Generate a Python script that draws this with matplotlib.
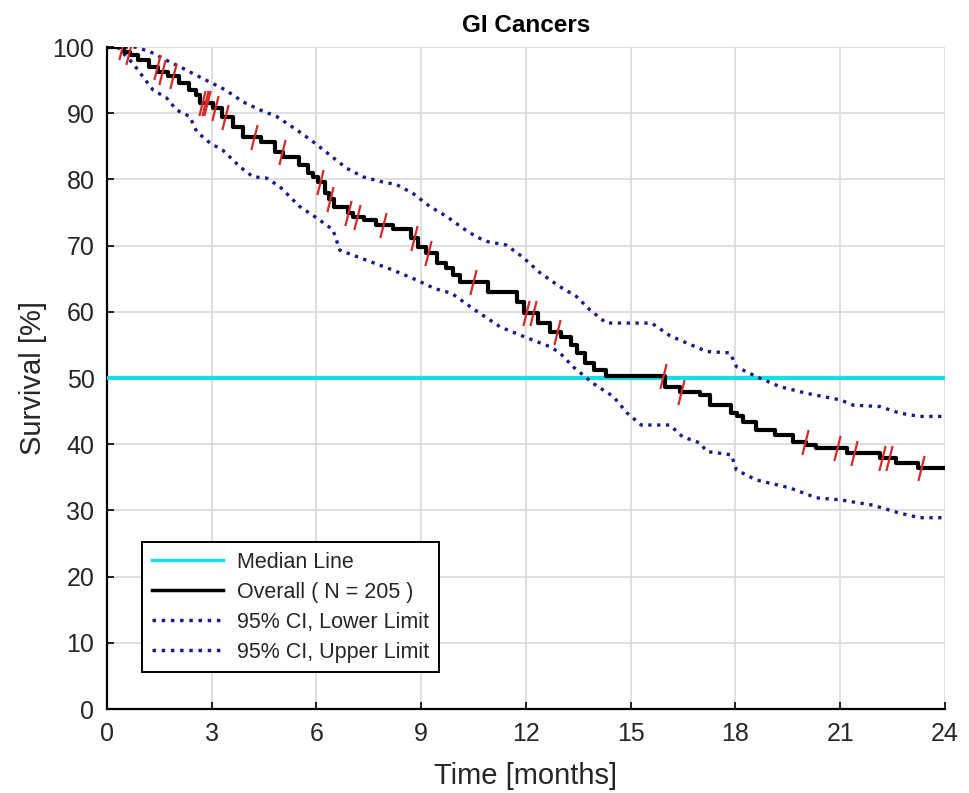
import numpy as np
import matplotlib
matplotlib.use("Agg")
import matplotlib.pyplot as plt
from matplotlib.path import Path

plt.rcParams['font.family'] = ['Liberation Sans', 'DejaVu Sans']

# Kaplan-Meier overall curve: step change points (time in months, survival %)
km_t = [0, 0.5, 0.65, 0.9, 1.2, 1.45, 1.75, 2.05, 2.35, 2.55, 2.65, 3.05, 3.3, 3.6, 3.9,
        4.4, 4.8, 5.05, 5.5, 5.75, 5.9, 6.05, 6.25, 6.35, 6.5, 6.9, 7.05, 7.35, 7.7, 8.2,
        8.7, 8.9, 9.15, 9.45, 9.7, 9.9, 10.1, 10.9, 11.75, 11.95, 12.35, 12.7, 13.0, 13.3,
        13.45, 13.7, 13.95, 14.3, 15.97, 16.41, 16.98, 17.26, 17.88, 18.03, 18.22, 18.6,
        19.12, 19.65, 20.03, 20.32, 21.18, 22.13, 22.6, 23.23, 24.0]
km_s = [100, 99.3, 98.8, 98.0, 97.0, 96.2, 95.6, 94.6, 93.5, 92.7, 91.5, 90.8, 89.4, 87.9, 86.4,
        85.7, 84.2, 83.4, 82.2, 81.0, 80.4, 79.6, 78.0, 77.0, 75.8, 75.0, 74.3, 73.9, 73.1, 72.5,
        71.1, 69.8, 68.9, 67.4, 66.6, 65.5, 64.5, 63.0, 61.5, 59.8, 58.3, 56.9, 56.2, 55.0,
        53.8, 52.3, 51.2, 50.3, 48.7, 47.9, 47.4, 45.9, 44.7, 44.2, 43.4, 42.1,
        41.4, 40.4, 39.9, 39.4, 38.6, 37.9, 37.1, 36.4, 36.4]

# censoring times (months)
censor_t = [0.42, 0.63, 1.42, 1.57, 1.89, 2.71, 2.8, 2.85, 3.09, 3.38, 4.2, 5.0, 6.1, 6.38,
            6.9, 7.16, 7.9, 8.8, 9.18, 10.48, 12.0, 12.2, 12.9, 15.93, 16.43, 20.0, 20.9,
            21.4, 22.2, 22.4, 23.3]

# 95% CI upper limit
up_t = [0, 0.8, 1.23, 1.7, 2.1, 2.46, 2.95, 3.4, 3.9, 4.38, 4.86, 5.0, 5.43, 5.9, 6.38,
        6.86, 7.33, 7.82, 8.3, 8.76, 9.25, 9.73, 10.2, 10.59, 10.9, 11.43, 11.9, 12.4,
        12.97, 13.45, 13.83, 14.3, 15.6, 16.12, 16.6, 17.18, 17.84, 18.03, 18.6, 19.27,
        20.03, 21.0, 21.37, 22.13, 22.7, 23.27, 24.0]
up_s = [100, 100, 99.3, 98.0, 97.0, 96.0, 94.7, 93.5, 91.7, 90.5, 89.5, 89.0, 87.5, 85.7, 83.7,
        81.7, 80.4, 79.7, 79.2, 77.9, 75.9, 74.4, 72.6, 71.3, 70.6, 70.1, 68.3, 65.9,
        63.8, 62.3, 60.3, 58.3, 58.3, 56.4, 55.3, 54.0, 53.8, 51.7, 50.2, 48.7,
        47.7, 46.7, 45.9, 45.7, 44.7, 44.2, 44.2]

# 95% CI lower limit
lo_t = [0.3, 0.75, 1.03, 1.32, 1.71, 1.99, 2.37, 2.57, 2.95, 3.32, 3.81, 4.18, 4.57, 4.95,
        5.52, 6.0, 6.47, 6.67, 7.43, 8.19, 8.87, 9.39, 9.87, 10.53, 11.27, 11.97, 12.7,
        12.97, 13.35, 13.92, 14.5, 14.9, 15.3, 16.12, 16.49, 16.98, 17.18, 17.88, 18.03,
        18.6, 19.56, 20.32, 21.0, 21.93, 22.7, 23.27, 24.0]
lo_s = [100, 97.5, 95.5, 93.5, 92.3, 90.5, 89.5, 87.2, 85.5, 84.4, 81.9, 80.4, 80.2, 78.9,
        75.9, 74.2, 72.4, 69.3, 67.8, 66.3, 64.8, 63.5, 62.8, 60.3, 57.7, 56.2, 54.7,
        53.8, 51.7, 49.2, 47.2, 44.7, 42.9, 42.9, 41.1, 40.2, 38.9, 38.4, 36.1,
        34.6, 33.4, 31.9, 31.6, 30.8, 29.6, 28.9, 28.9]

median_level = 50

text_col = '#262626'

fig = plt.figure(figsize=(9.70, 7.93), dpi=100)
ax = fig.add_axes([0.1103, 0.1059, 0.8639, 0.8348])

ax.set_xlim(0, 24)
ax.set_ylim(0, 100)
ax.set_xticks(np.arange(0, 25, 3))
ax.set_yticks(np.arange(0, 101, 10))
ax.grid(True, color='#d9d9d9', linewidth=1.2, linestyle='-')
ax.set_axisbelow(True)
for side in ['top', 'right']:
    ax.spines[side].set_visible(False)
for side in ['left', 'bottom']:
    ax.spines[side].set_linewidth(1.6)
ax.tick_params(direction='in', length=5, width=1.2, labelsize=18, pad=9,
               labelcolor=text_col)

# median line
ax.plot([0, 24], [median_level, median_level], color='#19dde6', linewidth=3,
        label='Median Line', zorder=3)
# overall KM
ax.step(km_t, km_s, where='post', color='black', linewidth=3,
        label='Overall ( N = 205 )', zorder=4)
# CI lines
ax.plot(lo_t, lo_s, linestyle=':', color='#1c1c85', linewidth=2.4,
        label='95% CI, Lower Limit', zorder=3)
ax.plot(up_t, up_s, linestyle=':', color='#1c1c85', linewidth=2.4,
        label='95% CI, Upper Limit', zorder=3)

# censor marks
km_t_arr = np.array(km_t)
km_s_arr = np.array(km_s)
idx = np.searchsorted(km_t_arr, np.array(censor_t), side='right') - 1
censor_s = km_s_arr[idx]
tick_marker = Path([(-0.25, -1.0), (0.25, 1.0)], [Path.MOVETO, Path.LINETO])
ax.plot(censor_t, censor_s, linestyle='none', marker=tick_marker, markersize=18,
        markeredgecolor='#d42a2a', markeredgewidth=1.6, zorder=5)

ax.set_title('GI Cancers', fontsize=17.5, fontweight='bold', pad=11, color='black')
ax.set_xlabel('Time [months]', fontsize=21, labelpad=12, color=text_col)
ax.set_ylabel('Survival [%]', fontsize=21, labelpad=4, color=text_col)

leg = ax.legend(loc='lower left', bbox_to_anchor=(0.0295, 0.039), fontsize=15.5,
                frameon=True, fancybox=False, edgecolor='black', framealpha=1,
                handlelength=3.3, borderpad=0.45, labelspacing=0.42, handletextpad=0.65)
leg.get_frame().set_linewidth(1.4)
for t in leg.get_texts():
    t.set_color(text_col)
for lh in leg.get_lines():
    lh.set_linewidth(2.5)

fig.savefig('out.png', dpi=100, facecolor='white')
